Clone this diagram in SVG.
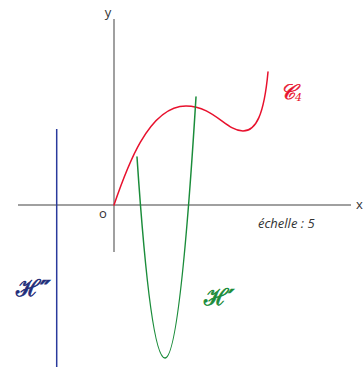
<svg xmlns="http://www.w3.org/2000/svg" width="364" height="367" viewBox="0 0 364 367">
<style>
.axis{stroke:#808080;stroke-width:1.5;fill:none}
.lbl{font-family:"Open Sans","Noto Sans",sans-serif;font-size:13px;fill:#333}
.crv{fill:none;stroke-width:1.5;stroke-linecap:round}
.scr{font-family:"DejaVu Serif","Noto Sans",serif;font-style:italic;font-weight:bold;stroke-width:0.7}
</style>
<rect width="364" height="367" fill="#fff"/>
<g id="axes">
<line class="axis" x1="114" y1="19" x2="114" y2="252"/>
<line class="axis" x1="18" y1="205" x2="351" y2="205"/>
<text class="lbl" x="108" y="16.5" text-anchor="middle">y</text>
<text class="lbl" x="359.5" y="209" text-anchor="middle">x</text>
<text class="lbl" x="103" y="218" text-anchor="middle">o</text>
<text class="lbl" x="258" y="228" font-style="italic" font-size="14">échelle : 5</text>
</g>
<g id="C4">
<path class="crv" stroke="#e8112d" d="M114,205 C126,170 148,106 186,106 C214,106 226,131 243,131 C256,131 264,115 268,72"/>
<text x="280" y="99" fill="#e8112d" stroke="#e8112d" stroke-width="0.5" font-family="DejaVu Serif,serif" font-style="italic" font-size="21">𝒞<tspan font-size="11" dy="2" stroke-width="0">4</tspan></text>
</g>
<g id="Hprime">
<path class="crv" stroke="#1a8c3a" d="M137,157 Q150.5,358 165,358 Q180,358 196,97"/>
<text class="scr" x="204" y="305" fill="#1a8c3a" stroke="#1a8c3a" font-size="23">ℋ′</text>
</g>
<g id="Hsecond">
<line x1="56.7" y1="129" x2="56.7" y2="367" stroke="#2a3a9c" stroke-width="1.5"/>
<text class="scr" x="16" y="296" fill="#1f2d7a" stroke="#1f2d7a" font-size="23">ℋ″</text>
</g>
</svg>
